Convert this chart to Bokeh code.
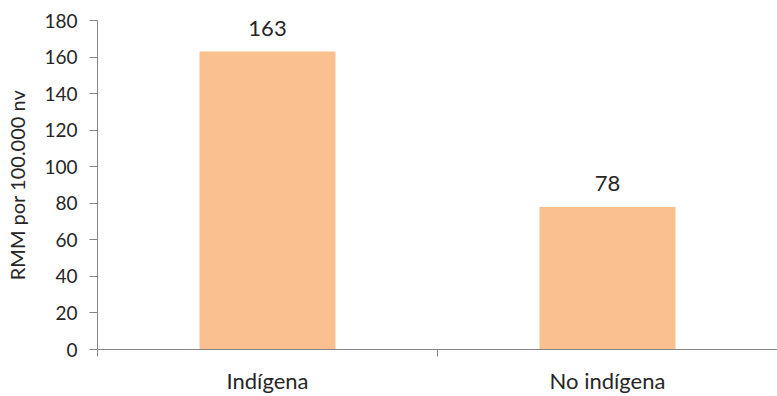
from bokeh.plotting import figure
from bokeh.models import Range1d, FixedTicker, ColumnDataSource
from bokeh.core.properties import value
from bokeh.embed import file_html
from bokeh.resources import INLINE

categories = ["Indígena", "No indígena"]
values = [163, 78]
y_ticks = [0, 20, 40, 60, 80, 100, 120, 140, 160, 180]

xpos = [i + 0.5 for i in range(len(categories))]
src = ColumnDataSource(dict(x=xpos, top=values, lab=[str(v) for v in values]))

FONT = "Lato"
TXT = "#262626"
AX = "#868686"

p = figure(width=777, height=396, output_backend="svg", toolbar_location=None,
           x_range=Range1d(0, len(categories)), y_range=Range1d(0, 180))
p.min_border_left = 97
p.min_border_right = 0
p.min_border_top = 20
p.min_border_bottom = 46
p.outline_line_color = None
p.xgrid.visible = False
p.ygrid.visible = False
p.background_fill_color = "white"
p.border_fill_color = "white"

p.vbar(x="x", top="top", width=0.4, bottom=0, source=src,
       fill_color="#FAC090", line_color=None)
p.text(x="x", y="top", text="lab", source=src, text_align="center",
       text_baseline="bottom", y_offset=-16, text_font=value(FONT),
       text_font_size="22px", text_color=TXT)

xa = p.xaxis[0]
xa.ticker = FixedTicker(ticks=xpos, minor_ticks=list(range(len(categories) + 1)))
xa.major_label_overrides = {x: c for x, c in zip(xpos, categories)}
xa.major_tick_line_color = None
xa.major_tick_out = 0
xa.major_tick_in = 0
xa.minor_tick_out = 7
xa.minor_tick_in = 0
xa.minor_tick_line_color = AX
xa.axis_line_color = AX
xa.axis_line_width = 1
xa.major_label_text_font = FONT
xa.major_label_text_font_size = "22px"
xa.major_label_text_color = TXT
xa.major_label_standoff = 10

ya = p.yaxis[0]
ya.ticker = FixedTicker(ticks=y_ticks)
ya.minor_tick_line_color = None
ya.major_tick_out = 8
ya.major_tick_in = 0
ya.major_tick_line_color = AX
ya.axis_line_color = AX
ya.major_label_text_font = FONT
ya.major_label_text_font_size = "19px"
ya.major_label_text_color = TXT
ya.major_label_standoff = 12
ya.axis_label = "RMM por 100.000 nv"
ya.axis_label_text_font = FONT
ya.axis_label_text_font_size = "20px"
ya.axis_label_text_font_style = "normal"
ya.axis_label_text_color = TXT
ya.axis_label_standoff = 12

open("out.html", "w").write(file_html(p, INLINE))
